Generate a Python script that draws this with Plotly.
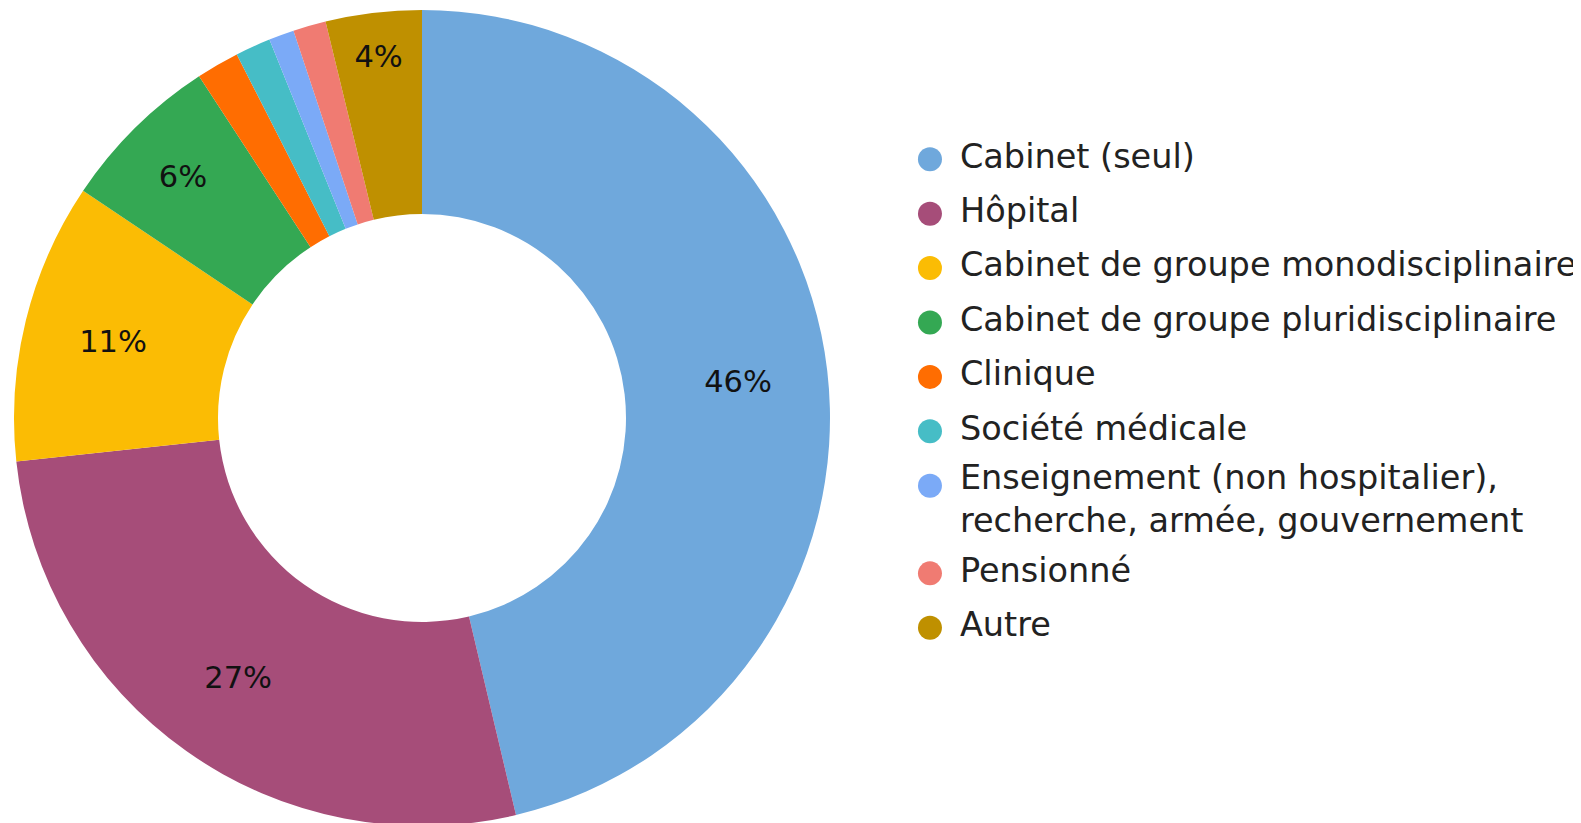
import plotly.graph_objects as go

# ---- data ----
labels = [
    "Cabinet (seul)",
    "Hôpital",
    "Cabinet de groupe monodisciplinaire",
    "Cabinet de groupe pluridisciplinaire",
    "Clinique",
    "Société médicale",
    "Enseignement (non hospitalier),<br>recherche, armée, gouvernement",
    "Pensionné",
    "Autre",
]
values = [46.3, 27.0, 11.1, 6.4, 1.7, 1.4, 1.0, 1.3, 3.8]
colors = ["#6fa8dc", "#a64d79", "#fbbc04", "#34a853", "#ff6d01",
          "#46bdc6", "#7baaf7", "#f07b72", "#bf9000"]

FONT = "DejaVu Sans, Verdana, sans-serif"
total = sum(values)
templates = ["%{percent:.0%}" if v / total >= 0.03 else "" for v in values]

W, H = 1581, 823
pie_domain = dict(x=[6 / W, 822 / W], y=[5 / H, 821 / H])

fig = go.Figure()
# coloured donut
fig.add_trace(go.Pie(
    labels=labels, values=values,
    marker=dict(colors=colors, line=dict(width=0)),
    hole=0.5, sort=False, direction="clockwise", rotation=0,
    textinfo="none", showlegend=False, domain=pie_domain,
))
# transparent ring carrying the percentage labels slightly outward
fig.add_trace(go.Pie(
    labels=labels, values=values,
    marker=dict(colors=["rgba(0,0,0,0)"] * len(values), line=dict(width=0)),
    hole=0.56, sort=False, direction="clockwise", rotation=0,
    texttemplate=templates, textposition="inside",
    insidetextorientation="horizontal",
    textfont=dict(family=FONT, size=30.5, color="#111111"),
    showlegend=False, hoverinfo="skip", domain=pie_domain,
))

# ---- custom legend drawn as a scatter on hidden axes ----
n_lines = [lab.count("<br>") + 1 for lab in labels]
extra = 0.612  # fraction of item step per extra text line
ypos = []
acc = 0.0
for k in n_lines:
    ypos.append(acc)
    acc += 1 + (k - 1) * extra
text_y = [y + (k - 1) * extra / 2 for y, k in zip(ypos, n_lines)]

fig.add_trace(go.Scatter(
    x=[0] * len(labels), y=ypos, mode="markers",
    marker=dict(color=colors, size=24, symbol="circle", line=dict(width=0)),
    showlegend=False, hoverinfo="skip", cliponaxis=False,
))
fig.add_trace(go.Scatter(
    x=[30] * len(labels), y=text_y, mode="text",
    text=labels, textposition="middle right",
    textfont=dict(family=FONT, size=33.5, color="#222222"),
    showlegend=False, hoverinfo="skip", cliponaxis=False,
))

fig.update_layout(
    width=W, height=H,
    margin=dict(l=0, r=0, t=0, b=0),
    paper_bgcolor="white", plot_bgcolor="rgba(0,0,0,0)",
    font=dict(family=FONT),
    uniformtext=dict(minsize=30.5, mode="show"),
    xaxis=dict(domain=[0.56, 1], range=[-36.6, 659], visible=False, fixedrange=True),
    yaxis=dict(domain=[0, 1], range=[12.348, -2.781], visible=False, fixedrange=True),
)

fig.write_html("out.html")
